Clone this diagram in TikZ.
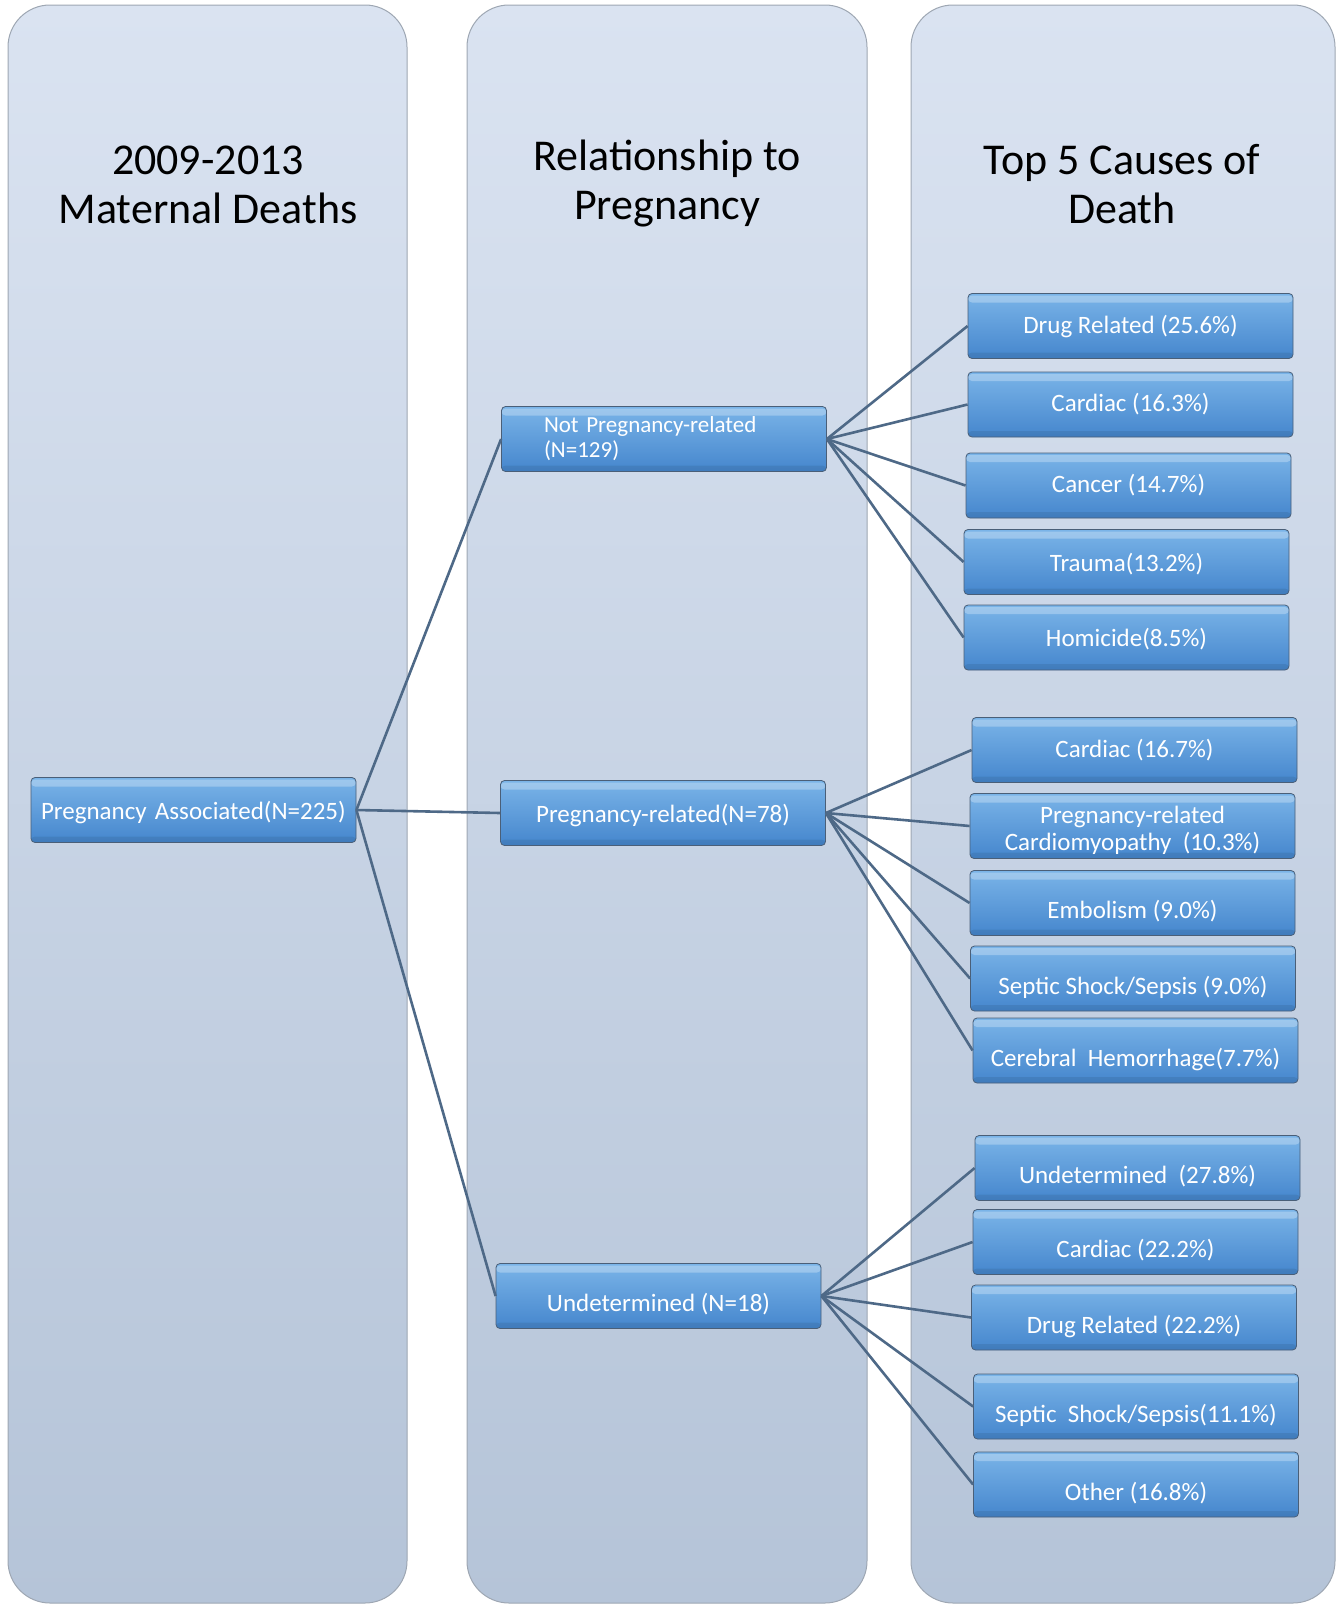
\documentclass[tikz,border=0pt]{standalone}
\usepackage{fontspec}
\setmainfont{Carlito}
\definecolor{coltop}{HTML}{DAE3F1}
\definecolor{colbot}{HTML}{B5C4D8}
\definecolor{coledge}{HTML}{9EA7B3}
\definecolor{boxtop}{HTML}{7AB4E8}
\definecolor{boxbot}{HTML}{4586CD}
\definecolor{boxedge}{HTML}{4A5F78}
\definecolor{linkc}{HTML}{4E6987}
\newcommand\lowtxt[1]{\raisebox{-8.5pt}[\height][\depth]{#1}}
\tikzset{
  colpanel/.style={draw=coledge, line width=1pt, top color=coltop, bottom color=colbot, rounded corners=42pt},
  header/.style={font=\fontsize{44}{49}\selectfont, align=center, text=black},
  box/.style={draw=boxedge, line width=0.8pt, rounded corners=4pt, top color=boxtop, bottom color=boxbot,
    minimum width=325pt, minimum height=65pt, inner sep=0pt, text=white,
    font=\fontsize{25}{27}\selectfont, align=center,
    path picture={\fill[white,opacity=0.28] ([yshift=-2pt]path picture bounding box.north west) rectangle ([yshift=-9pt]path picture bounding box.north east);
                  \fill[black,opacity=0.08] ([yshift=6pt]path picture bounding box.south west) rectangle (path picture bounding box.south east);}},
  link/.style={draw=linkc, line width=2.6pt}
}
\begin{document}
\begin{tikzpicture}[x=1pt,y=-1pt]
\useasboundingbox (0,0) rectangle (1341,1604);
% column panels
\path[colpanel] (8,5) rectangle (407,1603);
\path[colpanel] (467,5) rectangle (867,1603);
\path[colpanel] (911,5) rectangle (1335,1603);
% headers
\node[header] (h1) at (208,185) {2009-2013\\Maternal Deaths};
\node[header] (h2) at (667,184) {Relationship to\\Pregnancy};
\node[header] (h3) at (1122,184) {Top 5 Causes of\\Death};
% level 1 and 2
\node[box, text width=305pt, align=left] (pa) at (193.5,810) {\raisebox{-2pt}[\height][\depth]{Pregnancy Associated(N=225)}};
\node[box, text width=240pt, align=left, font=\fontsize{23}{25}\selectfont] (np) at (664,439) {Not Pregnancy-related\\(N=129)};
\node[box] (pr) at (663,813) {\raisebox{-2pt}[\height][\depth]{Pregnancy-related(N=78)}};
\node[box] (ud) at (658.5,1296) {\lowtxt{Undetermined (N=18)}};
% causes: not pregnancy-related
\node[box] (a1) at (1130.5,326) {Drug Related (25.6\%)};
\node[box] (a2) at (1130.5,404.5) {Cardiac (16.3\%)};
\node[box] (a3) at (1128.5,485.5) {Cancer (14.7\%)};
\node[box] (a4) at (1126.5,562) {\raisebox{-2pt}[\height][\depth]{Trauma(13.2\%)}};
\node[box] (a5) at (1126.5,637.5) {\raisebox{-2pt}[\height][\depth]{Homicide(8.5\%)}};
% causes: pregnancy-related
\node[box] (b1) at (1134.5,750) {Cardiac (16.7\%)};
\node[box] (b2) at (1132.5,826) {\raisebox{-4pt}[\height][\depth]{\parbox{300pt}{\centering Pregnancy-related\\Cardiomyopathy\ \ (10.3\%)}}};
\node[box] (b3) at (1132.5,903) {\lowtxt{Embolism (9.0\%)}};
\node[box] (b4) at (1133,978.5) {\lowtxt{Septic Shock/Sepsis (9.0\%)}};
\node[box] (b5) at (1135.5,1050.5) {\lowtxt{Cerebral\ \ Hemorrhage(7.7\%)}};
% causes: undetermined
\node[box] (c1) at (1137.5,1168) {\lowtxt{Undetermined\ \ (27.8\%)}};
\node[box] (c2) at (1135.5,1242) {\lowtxt{Cardiac (22.2\%)}};
\node[box] (c3) at (1134,1317.5) {\lowtxt{Drug Related (22.2\%)}};
\node[box] (c4) at (1136,1406.5) {\lowtxt{Septic\ \ Shock/Sepsis(11.1\%)}};
\node[box] (c5) at (1136,1484.5) {\lowtxt{Other (16.8\%)}};
% connectors
\foreach \t in {np,pr,ud} \draw[link] (pa.east) -- (\t.west);
\foreach \t in {a1,a2,a3,a4,a5} \draw[link] (np.east) -- (\t.west);
\foreach \t in {b1,b2,b3,b4,b5} \draw[link] (pr.east) -- (\t.west);
\foreach \t in {c1,c2,c3,c4,c5} \draw[link] (ud.east) -- (\t.west);
\end{tikzpicture}
\end{document}
